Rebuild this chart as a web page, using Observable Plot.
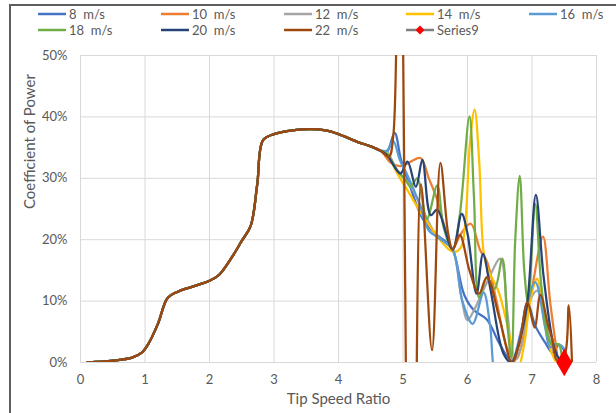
<!DOCTYPE html>
<html><head><meta charset="utf-8">
<script src="https://cdn.jsdelivr.net/npm/d3@7"></script>
<script src="https://cdn.jsdelivr.net/npm/@observablehq/plot@0.6"></script>
<style>
body{margin:0;background:#fff;font-family:Lato,sans-serif;}
#wrap{position:relative;width:616px;height:413px;overflow:hidden;}
#frame{position:absolute;left:9px;top:4px;width:800px;height:600px;border-left:2px solid #5e5e5e;border-top:2px solid #5e5e5e;}
#legend{position:relative;height:44px;}
.item{position:absolute;display:flex;align-items:center;height:16px;font-size:13px;color:#595959;white-space:pre;}
#chart{position:relative;}
</style></head>
<body><div id="wrap"><div id="frame"></div><div id="legend"></div><div id="chart"></div></div>
<script>
// Shared low-TSR part (all curves overlap): [TSR, Cp %]
const basePoints = [[0.1,0],[0.5,0.3],[0.8,0.8],[0.95,1.6],[1.05,3],[1.2,6.3],[1.35,10.5],[1.5,11.5],[1.75,12.4],[2.0,13.3],[2.15,14.3],[2.35,17.2],[2.5,19.8],[2.64,22.3],[2.74,29],[2.83,36.2],[3.0,37.2],[3.2,37.7],[3.55,38],[3.8,37.8],[4.0,37.2],[4.3,35.9],[4.5,35.2],[4.65,34.5]];

const tail8  = [[4.75,34.3],[4.87,37.4],[4.97,33],[5.1,29],[5.3,23.5],[5.5,21],[5.65,19.8],[5.77,18.4],[5.95,11],[6.1,8.5],[6.3,7],[6.5,3],[6.68,0.3],[6.8,3],[6.93,9.8],[7.05,6],[7.2,3.3],[7.32,1.6],[7.42,2.9],[7.52,1.5]];
const tail10 = [[4.7,34],[4.8,32.6],[4.95,32],[5.05,32.3],[5.27,33.3],[5.4,30],[5.53,26.5],[5.66,21.5],[5.77,18.6],[5.9,21],[6.05,22.6],[6.2,18.2],[6.3,16.5],[6.45,10],[6.62,2.2],[6.75,0.5],[6.88,5],[7.0,12],[7.17,20.5],[7.28,10],[7.4,0.5]];
const tail12 = [[4.75,34.3],[4.9,31.5],[5.1,29],[5.3,25],[5.5,21],[5.65,19.5],[5.77,18.4],[5.9,11],[6.0,6.9],[6.1,8.5],[6.3,13],[6.51,16.9],[6.62,8],[6.72,0.3],[6.85,3],[6.95,9.5],[7.08,11.7],[7.2,7],[7.35,1.5],[7.45,0.5]];
const tail14 = [[4.75,34],[4.9,31],[5.1,27.5],[5.3,24],[5.5,21],[5.7,18.5],[5.8,18],[5.9,18.8],[5.96,22],[6.04,36],[6.11,41.2],[6.18,33],[6.25,18],[6.32,15],[6.47,11.9],[6.62,6],[6.78,-1],[6.88,3],[6.97,10],[7.08,13.6],[7.2,6],[7.31,1.4],[7.38,0]];
const tail16 = [[4.75,34.5],[4.85,36],[4.95,33],[5.06,30.7],[5.25,26],[5.4,21.5],[5.55,20.3],[5.77,18.4],[5.92,10],[6.08,6.3],[6.25,11.4],[6.35,6],[6.45,-3],[6.58,-4],[6.72,0.5],[6.85,6],[7.05,13.1],[7.2,6],[7.28,2.5],[7.38,3],[7.48,2.5],[7.55,0.5]];
const tail18 = [[4.75,34],[4.91,31.3],[5.05,29.5],[5.12,28.6],[5.22,30],[5.37,23.4],[5.53,28.8],[5.63,22],[5.77,18.4],[5.88,24],[6.03,40.1],[6.1,27],[6.18,10.6],[6.3,13.8],[6.42,12],[6.54,16.9],[6.62,6],[6.68,0.8],[6.74,20],[6.81,30.4],[6.88,15],[6.94,9.8],[7.05,25.8],[7.15,12],[7.3,3],[7.41,3],[7.47,0]];
const tail20 = [[4.75,33.8],[4.96,30.8],[5.07,32.7],[5.2,28.6],[5.3,33],[5.43,24],[5.53,24.9],[5.77,18.4],[5.91,24.2],[6.0,21],[6.14,11.2],[6.24,17.7],[6.36,11.7],[6.56,1.4],[6.68,0],[6.82,4],[6.93,10],[7.06,27.3],[7.18,14],[7.35,2.2],[7.45,0]];
const tail22 = [[4.78,33.5],[4.85,37],[4.94,95],[5.14,-80],[5.28,29],[5.45,2],[5.58,32.5],[5.7,21],[5.77,18.4],[5.88,20.8],[6.03,15],[6.18,11.2],[6.3,13.9],[6.5,7],[6.69,0],[6.8,3],[6.93,9.8],[7.04,5.7],[7.13,11],[7.25,6],[7.31,4],[7.39,0.3],[7.5,1],[7.57,9.3],[7.62,0]];

const seriesNames  = ["8  m/s","10  m/s","12  m/s","14  m/s","16  m/s","18  m/s","20  m/s","22  m/s"];
const seriesColors = ["#4472C4","#ED7D31","#A5A5A5","#FFC000","#5B9BD5","#70AD47","#264478","#9E480E"];
const seriesTails  = [tail8, tail10, tail12, tail14, tail16, tail18, tail20, tail22];
const series9 = [[7.5, 0]];

const xTicks = [0,1,2,3,4,5,6,7,8];
const yTicks = [0,10,20,30,40,50];

const rows = seriesNames.flatMap((name, i) =>
  basePoints.concat(seriesTails[i]).map(([x, y]) => ({series: name, x, y})));

// Legend
const legend = document.getElementById("legend");
const legendItems = seriesNames.map((n, i) => ({name: n, color: seriesColors[i]})).concat([{name: "Series9", color: "#7f7f7f", marker: true}]);
const colLeft = [38, 161, 284, 406, 529];
legendItems.forEach((it, i) => {
  const d = document.createElement("div");
  d.className = "item";
  d.style.left = colLeft[i % 5] + "px";
  d.style.top = (i < 5 ? 6 : 22) + "px";
  const sw = `<svg width="30" height="10" style="margin-right:1px"><line x1="0" x2="28" y1="5" y2="5" stroke="${it.color}" stroke-width="2.5"/>` +
    (it.marker ? `<path d="M14,0.5 L18.5,5 L14,9.5 L9.5,5Z" fill="#FF0000"/>` : "") + `</svg>`;
  d.innerHTML = sw + `<span>${it.name}</span>`;
  legend.appendChild(d);
});

const chart = Plot.plot({
  width: 616, height: 369,
  marginTop: 11, marginBottom: 51, marginLeft: 80, marginRight: 20,
  style: {fontFamily: "Lato, sans-serif", fontSize: "13px", color: "#595959", background: "transparent", overflow: "visible"},
  x: {domain: [0, 8], label: null},
  y: {domain: [0, 50], label: null},
  color: {domain: seriesNames, range: seriesColors},
  marks: [
    Plot.gridX(xTicks, {stroke: "#d9d9d9", strokeOpacity: 1, strokeWidth: 1}),
    Plot.gridY(yTicks, {stroke: "#d9d9d9", strokeOpacity: 1, strokeWidth: 1}),
    Plot.axisX(xTicks, {tickSize: 0, tickPadding: 12, fill: "#595959", fontSize: 13}),
    Plot.axisY(yTicks, {tickSize: 0, tickPadding: 13, tickFormat: d => d + "%", fill: "#595959", fontSize: 13}),
    Plot.line(rows, {x: "x", y: "y", z: "series", stroke: "series", curve: "catmull-rom", strokeWidth: 2.25, clip: true}),
    Plot.dot(series9, {x: d => d[0], y: d => d[1], symbol: "diamond", r: 8.4, fill: "#FF0000", stroke: "none"}),
    Plot.text(["Coefficient of Power"], {frameAnchor: "left", dx: -50, rotate: -90, fontSize: 15, fill: "#595959"}),
    Plot.text(["Tip Speed Ratio"], {frameAnchor: "bottom", dy: 41, fontSize: 15, fill: "#595959"})
  ]
});
document.getElementById("chart").appendChild(chart);
</script></body></html>
